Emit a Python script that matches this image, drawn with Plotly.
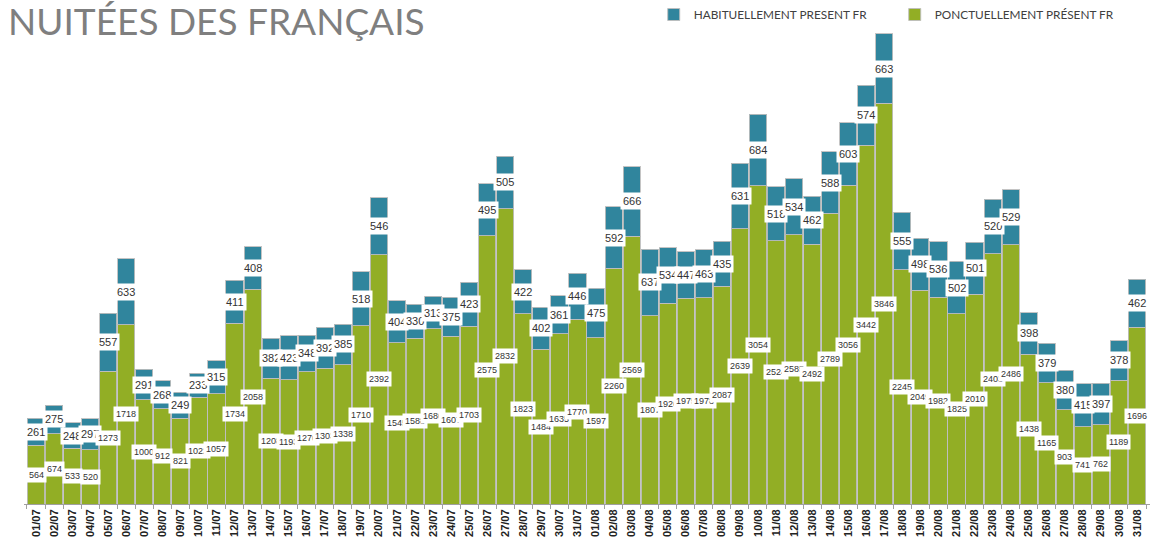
import plotly.graph_objects as go

dates = [f"{d:02d}/07" for d in range(1, 32)] + [f"{d:02d}/08" for d in range(1, 32)]

ponctuel = [564, 674, 533, 520, 1273, 1718, 1000, 912, 821, 1022, 1057, 1734, 2058, 1208, 1193,
            1270, 1303, 1338, 1710, 2392, 1545, 1588, 1680, 1607, 1703, 2575, 2832, 1823, 1484,
            1635, 1770,
            1597, 2260, 2569, 1807, 1926, 1975, 1978, 2087, 2639, 3054, 2524, 2585, 2492, 2789,
            3056, 3442, 3846, 2245, 2049, 1982, 1825, 2010, 2403, 2486, 1438, 1165, 903, 741,
            762, 1189, 1696]

habituel = [261, 275, 248, 297, 557, 633, 291, 268, 249, 233, 315, 411, 408, 382, 423,
            348, 392, 385, 518, 546, 404, 330, 313, 375, 423, 495, 505, 422, 402,
            361, 446,
            475, 592, 666, 637, 534, 447, 463, 435, 631, 684, 518, 534, 462, 588,
            603, 574, 663, 555, 498, 536, 502, 501, 520, 529, 398, 379, 380, 415,
            397, 378, 462]

GREEN = "#92AE25"
TEAL = "#30859D"

fig = go.Figure()
fig.add_trace(go.Bar(x=dates, y=ponctuel, name="PONCTUELLEMENT PRÉSENT FR",
                     marker=dict(color=GREEN, line=dict(color="rgba(190,190,190,0.9)", width=1))))
fig.add_trace(go.Bar(x=dates, y=habituel, name="HABITUELLEMENT PRESENT FR",
                     marker=dict(color=TEAL, line=dict(color="rgba(190,190,190,0.9)", width=1))))

annotations = []
for d, p, h in zip(dates, ponctuel, habituel):
    annotations.append(dict(x=d, y=p / 2, xref="x", yref="y", text=str(p), showarrow=False,
                            font=dict(family="Liberation Sans Narrow, Liberation Sans", size=9, color="#333333"),
                            bgcolor="white", borderpad=2))
    annotations.append(dict(x=d, y=p + h / 2, xref="x", yref="y", text=str(h), showarrow=False,
                            font=dict(family="Liberation Sans, Arial", size=11, color="#333333"),
                            bgcolor="white", borderpad=2))

fig.update_layout(
    width=1155, height=541,
    margin=dict(l=24, r=5, t=20, b=37, autoexpand=False),
    barmode="stack",
    bargap=0.05,
    plot_bgcolor="white",
    paper_bgcolor="white",
    title=dict(text="NUITÉES DES FRANÇAIS", x=8 / 1155, xref="container", xanchor="left",
               y=1 - 9 / 541, yref="container", yanchor="top", pad=dict(l=0, t=0, b=0, r=0),
               font=dict(family="Lato", size=37, color="#7f7f7f")),
    showlegend=True,
    legend=dict(orientation="h", x=0.566, y=1.0, xref="container", yref="container",
                xanchor="left", yanchor="top", traceorder="reversed",
                font=dict(family="Lato", size=11.8, color="#404040"),
                entrywidth=196, entrywidthmode="pixels", itemclick=False,
                bgcolor="rgba(0,0,0,0)"),
    annotations=annotations,
    xaxis=dict(type="category", tickangle=-90, showline=True, linecolor="#a0a0a0", linewidth=1,
               ticks="outside", tickson="boundaries", ticklen=4, tickcolor="#a0a0a0",
               tickfont=dict(family="Liberation Sans Narrow, Liberation Sans", size=11, color="#222222", weight="bold"),
               showgrid=False, automargin=False),
    yaxis=dict(range=[0, 4643], visible=False, showgrid=False, automargin=False),
)

fig.write_html("out.html", config={"displayModeBar": False},
               post_script="document.body.style.margin='0';")
